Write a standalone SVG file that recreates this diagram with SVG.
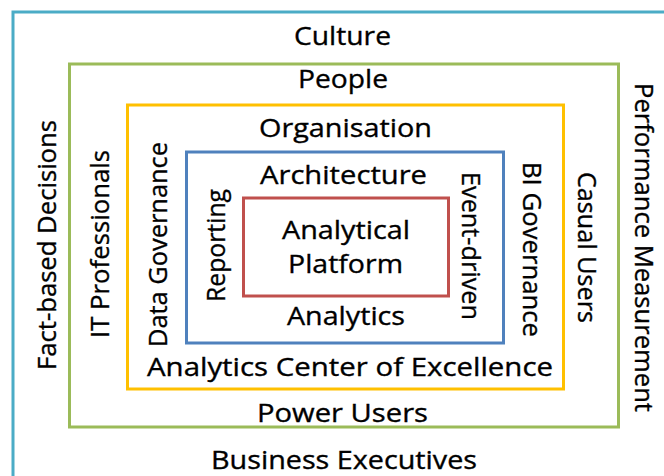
<svg xmlns="http://www.w3.org/2000/svg" width="664" height="476" viewBox="0 0 664 476">
<style>
.box{fill:none;stroke-width:3}
text{font-family:"Open Sans","Liberation Sans",sans-serif;font-size:26px;fill:#000;stroke:#000;stroke-width:0.35;text-anchor:middle}
</style>
<rect width="664" height="476" fill="#fff"/>
<g id="culture">
<rect class="box" x="13" y="12" width="680" height="500" stroke="#4BACC6"/>
<text x="342.5" y="45" textLength="97" lengthAdjust="spacingAndGlyphs">Culture</text>
<text x="344" y="469" font-size="25.5" textLength="266" lengthAdjust="spacingAndGlyphs">Business Executives</text>
<text transform="translate(56 245) rotate(-90)" textLength="250" lengthAdjust="spacingAndGlyphs">Fact-based Decisions</text>
<text transform="translate(635 247.5) rotate(90)" textLength="329" lengthAdjust="spacingAndGlyphs">Performance Measurement</text>
</g>
<g id="people">
<rect class="box" x="69.5" y="64" width="549" height="363" stroke="#9BBB59"/>
<text x="343" y="88" textLength="90" lengthAdjust="spacingAndGlyphs">People</text>
<text x="342.5" y="422" textLength="171" lengthAdjust="spacingAndGlyphs">Power Users</text>
<text transform="translate(109 244) rotate(-90)" textLength="188" lengthAdjust="spacingAndGlyphs">IT Professionals</text>
<text transform="translate(578 247.5) rotate(90)" textLength="151" lengthAdjust="spacingAndGlyphs">Casual Users</text>
</g>
<g id="organisation">
<rect class="box" x="127.5" y="105" width="436" height="284" stroke="#FFC000"/>
<text x="345.5" y="137" textLength="173" lengthAdjust="spacingAndGlyphs">Organisation</text>
<text x="350" y="376" textLength="406" lengthAdjust="spacingAndGlyphs">Analytics Center of Excellence</text>
<text transform="translate(167 244.5) rotate(-90)" textLength="205" lengthAdjust="spacingAndGlyphs">Data Governance</text>
<text transform="translate(523 249.5) rotate(90)" textLength="175" lengthAdjust="spacingAndGlyphs">BI Governance</text>
</g>
<g id="architecture">
<rect class="box" x="186.5" y="152" width="317" height="191" stroke="#4F81BD"/>
<text x="343.5" y="184" textLength="167" lengthAdjust="spacingAndGlyphs">Architecture</text>
<text x="346" y="325" textLength="118" lengthAdjust="spacingAndGlyphs">Analytics</text>
<text transform="translate(225 245.5) rotate(-90)" textLength="113" lengthAdjust="spacingAndGlyphs">Reporting</text>
<text transform="translate(462 246) rotate(90)" textLength="148" lengthAdjust="spacingAndGlyphs">Event-driven</text>
</g>
<g id="platform">
<rect class="box" x="243.5" y="198" width="205" height="98" stroke="#C0504D"/>
<text x="346" y="239" textLength="128" lengthAdjust="spacingAndGlyphs">Analytical</text>
<text x="345.5" y="273" textLength="115" lengthAdjust="spacingAndGlyphs">Platform</text>
</g>
<g id="connectors"/>
</svg>
